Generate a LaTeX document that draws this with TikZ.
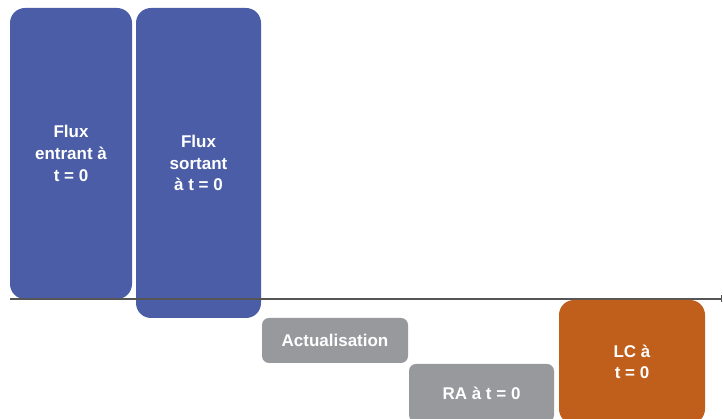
\documentclass[tikz,border=0pt]{standalone}
\usepackage{fontspec}
\setmainfont{Liberation Sans}
\usepackage{xcolor}
\usetikzlibrary{positioning, arrows.meta}

\definecolor{fluxblue}{HTML}{4A5DA6}
\definecolor{stepgray}{HTML}{98999D}
\definecolor{lcorange}{HTML}{C05E1B}
\definecolor{axisgray}{HTML}{555555}

\begin{document}
\begin{tikzpicture}[%
    x=1pt, y=1pt,        % one unit = one pixel of the reference
    flux/.style={rectangle, rounded corners=15pt, fill=fluxblue, text=white,
        align=center, font=\bfseries\fontsize{17}{21.7}\selectfont},
    grey/.style={rectangle, rounded corners=7pt, fill=stepgray, text=white,
        align=center, font=\bfseries\fontsize{17}{21.7}\selectfont},
    result/.style={rectangle, rounded corners=15pt, fill=lcorange, text=white,
        align=center, font=\bfseries\fontsize{17}{21.7}\selectfont},
    timeline/.style={axisgray, line width=1.2pt}
]

    % ==========================================
    % 0. Frame of the picture
    % ==========================================
    \useasboundingbox (0,0) rectangle (723,419);
    \clip (0,0) rectangle (723,419);

    % ==========================================
    % 1. Flows (blue columns)
    % ==========================================
    \node[flux, minimum width=122, minimum height=291] (flin) at (71, 265.5)
        {Flux\\entrant à\\t = 0};
    \node[flux, minimum width=125, minimum height=310] (flout) at (198.5, 256)
        {Flux\\sortant\\à t = 0};

    % ==========================================
    % 2. Time line
    % ==========================================
    \coordinate (axl) at (10, 120);
    \coordinate (axr) at (722, 120);
    \draw[timeline, -{Bar[width=7pt, line width=1.2pt]}] (axl) -- (axr);

    % ==========================================
    % 3. Steps below the line
    % ==========================================
    \node[grey, minimum width=146, minimum height=45] (actu) at (335, 78.5)
        {Actualisation};
    \node[grey, minimum width=145, minimum height=58] (ra) at (481.5, 26)
        {RA à t = 0};
    \node[result, minimum width=146, minimum height=124] (lc) at (632, 57)
        {LC à\\t = 0};

\end{tikzpicture}
\end{document}
